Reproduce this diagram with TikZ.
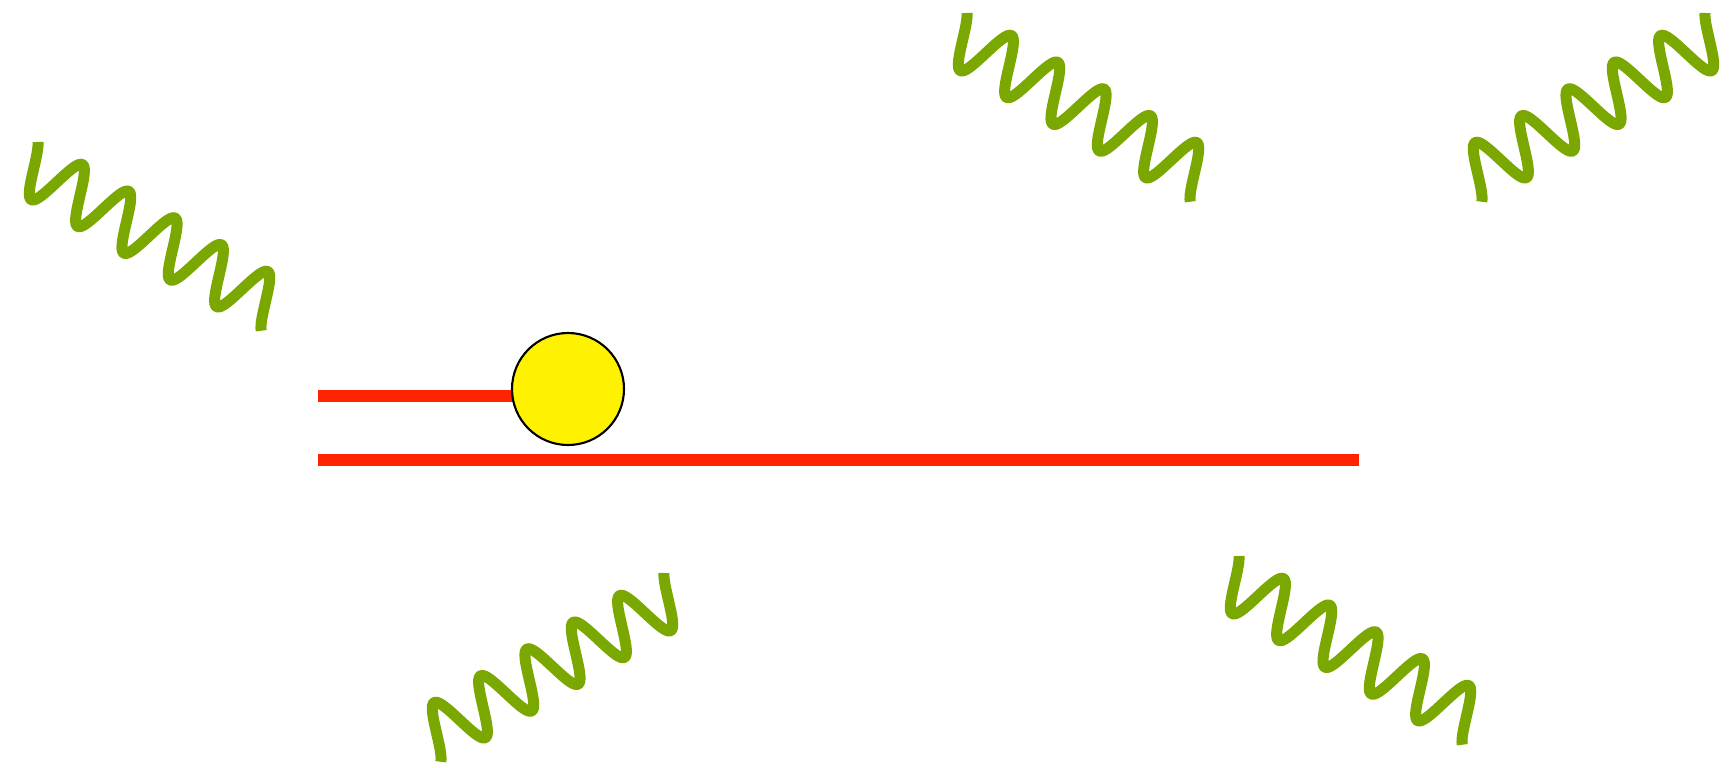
\documentclass[tikz,border=0pt]{standalone}
\usetikzlibrary{backgrounds}
\definecolor{gluongreen}{RGB}{122,168,0}
\definecolor{quarkred}{RGB}{255,36,0}

\begin{document}
\begin{tikzpicture}[
    quark/.style={draw=quarkred, line width=0.12cm},
    gluon/.style={draw=gluongreen, line width=0.11cm, line join=round},
    blob/.style={circle, fill=yellow, draw=black, line width=0.6pt, minimum size=1.12cm, inner sep=0pt}
]
\useasboundingbox (0,0) rectangle (17.33,7.67);

% Blob and quark lines
\node[blob] (blob) at (5.68,3.78) {};
\coordinate (qin) at (3.18,3.71);
\coordinate (lowin) at (3.18,3.07);
\coordinate (lowout) at (13.59,3.07);
\begin{scope}[on background layer]
\draw[quark] (qin) -- (qin -| blob.center);
\end{scope}
\draw[quark] (lowin) -- (lowout);

% Gluons
\foreach \sx/\sy in {0.361/6.292, 9.651/7.582, 12.371/2.152}
    \draw[gluon, shift={(\sx,\sy)}, rotate=-30] plot[domain=0.07:5.45, samples=200] ({0.535*\x}, {0.28*cos(360*\x)-0.28});
\foreach \sx/\sy in {6.659/1.982, 17.069/7.582}
    \draw[gluon, shift={(\sx,\sy)}, xscale=-1, rotate=-30] plot[domain=0.07:5.45, samples=200] ({0.535*\x}, {0.28*cos(360*\x)-0.28});

\end{tikzpicture}
\end{document}
